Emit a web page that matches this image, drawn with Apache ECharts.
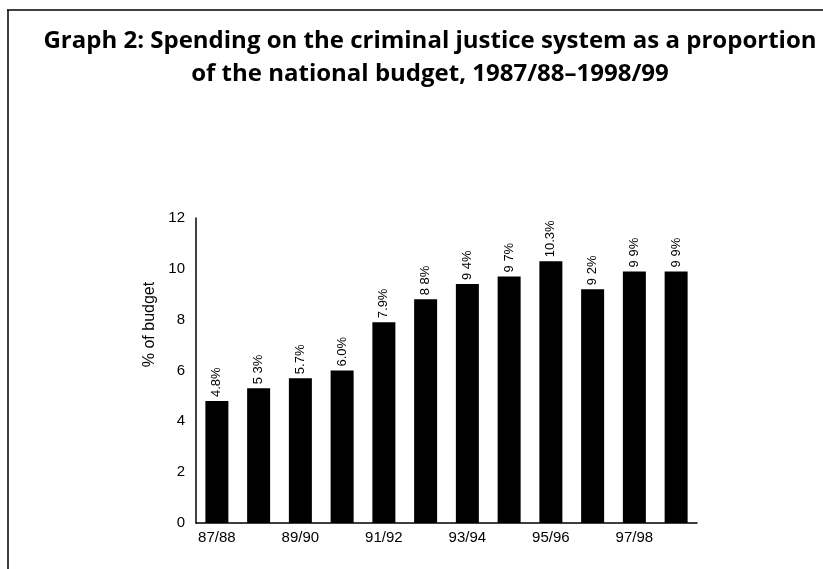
<!DOCTYPE html>
<html>
<head>
    <meta charset="utf-8">
    <script src="https://cdn.jsdelivr.net/npm/echarts@6/dist/echarts.min.js"></script>
</head>
<body style="margin:0;background-color:#ffffff">
    <div id="main" style="width:823px;height:569px;"></div>
    <script type="text/javascript">

        var years = ['87/88', '88/89', '89/90', '90/91', '91/92', '92/93', '93/94', '94/95', '95/96', '96/97', '97/98', '98/99'];
        var share = [4.8, 5.3, 5.7, 6.0, 7.9, 8.8, 9.4, 9.7, 10.3, 9.2, 9.9, 9.9];
        // labels as printed in the source (some decimal points lost in the scan)
        var shareText = ['4.8%', '5 3%', '5.7%', '6.0%', '7.9%', '8 8%', '9 4%', '9 7%', '10.3%', '9 2%', '9 9%', '9 9%'];

        var myChart = echarts.init(document.getElementById('main'));

        var option = {
            animation: false,
            backgroundColor: '#ffffff',
            title: {
                text: 'Graph 2: Spending on the criminal justice system as a proportion\nof the national budget, 1987/88\u20131998/99',
                left: 430,
                top: 25,
                padding: 0,
                textAlign: 'center',
                textStyle: {
                    fontFamily: 'Open Sans',
                    fontWeight: 'bold',
                    fontSize: 24,
                    lineHeight: 33,
                    color: '#000'
                }
            },
            graphic: [
                { type: 'line', shape: { x1: 7, y1: 10, x2: 823, y2: 10 }, style: { stroke: '#000', lineWidth: 1.5 } },
                { type: 'line', shape: { x1: 8, y1: 10, x2: 8, y2: 569 }, style: { stroke: '#000', lineWidth: 1.5 } }
            ],
            grid: { left: 196, right: 126, top: 218, bottom: 46, containLabel: false },
            xAxis: {
                type: 'category',
                data: years,
                axisLine: { lineStyle: { color: '#000', width: 1.5 } },
                axisTick: { show: false },
                axisLabel: {
                    interval: 1,
                    margin: 7,
                    color: '#000',
                    fontFamily: 'Liberation Sans',
                    fontSize: 15
                }
            },
            yAxis: {
                type: 'value',
                min: 0,
                max: 12,
                interval: 2,
                name: '% of budget',
                nameLocation: 'middle',
                nameGap: 37,
                nameTextStyle: {
                    color: '#000',
                    fontFamily: 'Liberation Sans',
                    fontSize: 16,
                    padding: [0, 0, 0, 92]
                },
                splitLine: { show: false },
                axisLine: { show: true, lineStyle: { color: '#000', width: 1.5 } },
                axisTick: { show: false },
                axisLabel: {
                    margin: 11,
                    color: '#000',
                    fontFamily: 'Liberation Sans',
                    fontSize: 15
                }
            },
            series: [{
                type: 'bar',
                data: share,
                barWidth: 23,
                itemStyle: { color: '#000' },
                label: {
                    show: true,
                    position: 'top',
                    rotate: 90,
                    align: 'left',
                    verticalAlign: 'middle',
                    distance: 4,
                    color: '#000',
                    fontFamily: 'Liberation Sans',
                    fontSize: 13,
                    formatter: function (p) { return shareText[p.dataIndex]; }
                }
            }]
        };

        myChart.setOption(option);
    </script>
</body>
</html>
